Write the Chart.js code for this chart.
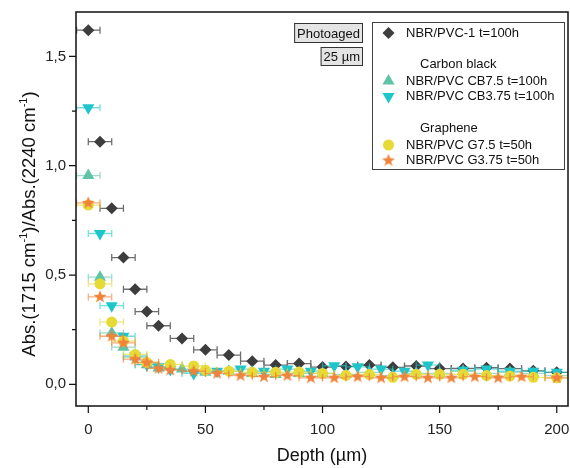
<!DOCTYPE html>
<html>
<head>
<meta charset="utf-8">
<script src="https://cdn.jsdelivr.net/npm/chart.js@4.4.1/dist/chart.umd.min.js"></script>
<style>
  html, body { margin: 0; padding: 0; background: #fff; }
</style>
</head>
<body>
<canvas id="chart" width="570" height="468"></canvas>
<script>
// depth (µm) and ratio values
const depthPvc1 = [0, 5, 10, 15, 20, 25, 30, 40, 50, 60, 70, 80, 90, 100, 110, 120, 130, 140, 150, 160, 170, 180, 190, 200];
const ratioPvc1 = [1.62, 1.11, 0.805, 0.58, 0.435, 0.333, 0.268, 0.21, 0.158, 0.134, 0.106, 0.088, 0.095, 0.079, 0.082, 0.088, 0.078, 0.084, 0.072, 0.073, 0.076, 0.072, 0.062, 0.055];

const depthCB75 = [0, 5, 10, 15, 20, 25, 30, 40, 50, 60, 70, 80, 90, 100, 110, 120, 130, 140, 150, 160, 170, 180, 190, 200];
const ratioCB75 = [0.955, 0.49, 0.235, 0.17, 0.125, 0.09, 0.075, 0.07, 0.055, 0.06, 0.05, 0.045, 0.05, 0.05, 0.045, 0.055, 0.04, 0.05, 0.05, 0.06, 0.05, 0.055, 0.05, 0.04];

const depthCB375 = [0, 5, 10, 15, 20, 25, 30, 35, 45, 55, 65, 75, 85, 95, 105, 115, 125, 135, 145, 160, 170, 180, 190, 200];
const ratioCB375 = [1.265, 0.69, 0.36, 0.22, 0.13, 0.09, 0.08, 0.068, 0.05, 0.06, 0.07, 0.06, 0.07, 0.06, 0.085, 0.08, 0.07, 0.06, 0.088, 0.065, 0.07, 0.06, 0.06, 0.055];

const depthG75 = [0, 5, 10, 15, 20, 25, 35, 45, 50, 60, 70, 80, 90, 100, 110, 120, 130, 140, 150, 160, 170, 180, 190, 200];
const ratioG75 = [0.82, 0.46, 0.285, 0.198, 0.137, 0.10, 0.091, 0.084, 0.065, 0.06, 0.055, 0.055, 0.056, 0.05, 0.041, 0.045, 0.032, 0.046, 0.046, 0.046, 0.04, 0.038, 0.032, 0.03];

const depthG375 = [0, 5, 10, 15, 20, 25, 30, 35, 45, 55, 65, 75, 85, 95, 105, 115, 125, 135, 145, 155, 165, 175, 185, 200];
const ratioG375 = [0.83, 0.40, 0.22, 0.19, 0.115, 0.10, 0.073, 0.065, 0.06, 0.05, 0.04, 0.035, 0.04, 0.03, 0.03, 0.035, 0.03, 0.035, 0.03, 0.03, 0.035, 0.03, 0.035, 0.03];

const depthErr = 5;

const xMajor = [0, 50, 100, 150, 200];
const xMinor = [25, 75, 125, 175];
const yMajor = [0, 0.5, 1.0, 1.5];
const yMinor = [0.25, 0.75, 1.25];

const FONT = "'Liberation Sans', Arial, sans-serif";

// filled five point star used as the G3.75 marker
function makeStar(color, r) {
    const c = document.createElement('canvas');
    const s = Math.ceil(r * 2 + 2);
    c.width = s; c.height = s;
    const g = c.getContext('2d');
    g.fillStyle = color;
    g.beginPath();
    for (let i = 0; i < 10; i++) {
        const rad = i % 2 === 0 ? r : r * 0.42;
        const a = -Math.PI / 2 + i * Math.PI / 5;
        g.lineTo(s / 2 + rad * Math.cos(a), s / 2 + rad * Math.sin(a));
    }
    g.closePath();
    g.fill();
    return c;
}
const starImg = makeStar('#f0823a', 6.8);

const pts = (xs, ys) => xs.map((x, i) => ({ x: x, y: ys[i] }));

const series = [
    { label: 'NBR/PVC-1 t=100h', data: pts(depthPvc1, ratioPvc1), color: '#3d3d3d', bar: '#6e6e6e', style: 'rectRot', radius: 6, rotation: 0, order: 5 },
    { label: 'NBR/PVC CB7.5 t=100h', data: pts(depthCB75, ratioCB75), color: '#5fc4a6', bar: 'rgba(95,196,166,0.6)', style: 'triangle', radius: 7, rotation: 0, order: 4 },
    { label: 'NBR/PVC CB3.75 t=100h', data: pts(depthCB375, ratioCB375), color: '#1ec6ca', bar: 'rgba(30,198,202,0.6)', style: 'triangle', radius: 7, rotation: 180, order: 3 },
    { label: 'NBR/PVC G7.5 t=50h', data: pts(depthG75, ratioG75), color: '#e6da37', bar: 'rgba(230,218,55,0.65)', style: 'circle', radius: 5.5, rotation: 0, order: 2 },
    { label: 'NBR/PVC G3.75 t=50h', data: pts(depthG375, ratioG375), color: '#f0823a', bar: 'rgba(240,130,58,0.65)', style: starImg, radius: 6, rotation: 0, order: 1 }
];

const errorBars = {
    id: 'errorBars',
    beforeDatasetDraw(chart, args) {
        const ds = chart.data.datasets[args.index];
        const { ctx, chartArea: a, scales: { x, y } } = chart;
        ctx.save();
        ctx.beginPath();
        ctx.rect(a.left, a.top, a.right - a.left, a.bottom - a.top);
        ctx.clip();
        ctx.strokeStyle = ds.barColor;
        ctx.lineWidth = 1.3;
        ds.data.forEach(p => {
            const x0 = x.getPixelForValue(p.x - depthErr);
            const x1 = x.getPixelForValue(p.x + depthErr);
            const py = y.getPixelForValue(p.y);
            ctx.beginPath();
            ctx.moveTo(x0, py); ctx.lineTo(x1, py);
            ctx.moveTo(x0, py - 3.5); ctx.lineTo(x0, py + 3.5);
            ctx.moveTo(x1, py - 3.5); ctx.lineTo(x1, py + 3.5);
            ctx.stroke();
        });
        ctx.restore();
    }
};

function tagBox(ctx, text, right, top, h) {
    ctx.font = '13px ' + FONT;
    const w = ctx.measureText(text).width + 6;
    ctx.fillStyle = '#e4e4e4';
    ctx.fillRect(right - w, top, w, h);
    ctx.strokeStyle = '#333';
    ctx.lineWidth = 1;
    ctx.strokeRect(right - w + 0.5, top + 0.5, w - 1, h - 1);
    ctx.fillStyle = '#111';
    ctx.textAlign = 'left';
    ctx.textBaseline = 'middle';
    ctx.fillText(text, right - w + 3, top + h / 2 + 1);
}

// y title with real superscripts
function yTitle(ctx, cx, cy) {
    const parts = [
        ['Abs.(1715 cm', false], ['-1', true], [')/Abs.(2240 cm', false], ['-1', true], [')', false]
    ];
    const big = '18.5px ' + FONT, small = '11px ' + FONT;
    let total = 0;
    parts.forEach(p => { ctx.font = p[1] ? small : big; total += ctx.measureText(p[0]).width; });
    ctx.save();
    ctx.translate(cx, cy);
    ctx.rotate(-Math.PI / 2);
    ctx.fillStyle = '#111';
    ctx.textAlign = 'left';
    ctx.textBaseline = 'alphabetic';
    let x = -total / 2;
    parts.forEach(p => {
        ctx.font = p[1] ? small : big;
        ctx.fillText(p[0], x, p[1] ? -1 : 6.5);
        x += ctx.measureText(p[0]).width;
    });
    ctx.restore();
}

const decorations = {
    id: 'decorations',
    afterDraw(chart) {
        const { ctx, chartArea: a, scales: { x, y } } = chart;
        ctx.save();
        // frame
        ctx.strokeStyle = '#111';
        ctx.lineWidth = 1.5;
        ctx.strokeRect(a.left, a.top, a.right - a.left, a.bottom - a.top);
        // outward ticks
        ctx.lineWidth = 1.2;
        ctx.beginPath();
        xMajor.forEach(v => { const px = x.getPixelForValue(v); ctx.moveTo(px, a.bottom); ctx.lineTo(px, a.bottom + 7); });
        xMinor.forEach(v => { const px = x.getPixelForValue(v); ctx.moveTo(px, a.bottom); ctx.lineTo(px, a.bottom + 4); });
        yMajor.forEach(v => { const py = y.getPixelForValue(v); ctx.moveTo(a.left, py); ctx.lineTo(a.left - 7, py); });
        yMinor.forEach(v => { const py = y.getPixelForValue(v); ctx.moveTo(a.left, py); ctx.lineTo(a.left - 4, py); });
        ctx.stroke();

        yTitle(ctx, 28, 224);

        // tag boxes
        tagBox(ctx, 'Photoaged', 363, 23, 20);
        tagBox(ctx, '25 µm', 363, 47, 19);

        // legend box
        ctx.fillStyle = '#fff';
        ctx.fillRect(372, 22, 193, 148);
        ctx.strokeStyle = '#444';
        ctx.lineWidth = 1;
        ctx.strokeRect(372.5, 22.5, 192, 147);

        const rows = [
            { y: 33, s: 0 },
            { y: 64, head: 'Carbon black' },
            { y: 81, s: 1 },
            { y: 96.5, s: 2 },
            { y: 128.5, head: 'Graphene' },
            { y: 145, s: 3 },
            { y: 160.5, s: 4 }
        ];
        ctx.font = '13px ' + FONT;
        ctx.textBaseline = 'middle';
        ctx.textAlign = 'left';
        rows.forEach(r => {
            ctx.fillStyle = '#111';
            if (r.head) {
                ctx.fillText(r.head, 420, r.y);
                return;
            }
            const s = series[r.s];
            ctx.fillText(s.label, 406, r.y);
            ctx.fillStyle = s.color;
            Chart.helpers.drawPoint(ctx, { pointStyle: s.style, radius: s.radius, rotation: s.rotation, borderWidth: 0 }, 388.5, r.y);
        });
        ctx.restore();
    }
};

new Chart(document.getElementById('chart'), {
    type: 'scatter',
    data: {
        datasets: series.map(s => ({
            label: s.label,
            data: s.data,
            order: s.order,
            barColor: s.bar,
            showLine: false,
            pointStyle: s.style,
            pointRadius: s.radius,
            pointRotation: s.rotation,
            pointBackgroundColor: s.color,
            pointBorderWidth: 0,
            pointBorderColor: s.color
        }))
    },
    options: {
        responsive: false,
        animation: false,
        layout: { autoPadding: false, padding: { top: 12, right: 2, left: 0, bottom: 0 } },
        plugins: {
            legend: { display: false },
            tooltip: { enabled: false }
        },
        scales: {
            x: {
                type: 'linear',
                min: -5.25,
                max: 204.8,
                afterBuildTicks: s => { s.ticks = xMajor.map(v => ({ value: v })); },
                afterFit: s => { s.height = 62; s.paddingLeft = 0; s.paddingRight = 0; },
                grid: { display: false, drawTicks: false },
                border: { display: false },
                ticks: {
                    padding: 15,
                    color: '#222',
                    font: { family: FONT, size: 15 },
                    callback: v => String(v)
                },
                title: {
                    display: true,
                    text: 'Depth (µm)',
                    color: '#111',
                    font: { family: FONT, size: 18 },
                    padding: { top: 0, bottom: 1 }
                }
            },
            y: {
                type: 'linear',
                min: -0.099,
                max: 1.703,
                afterBuildTicks: s => { s.ticks = yMajor.map(v => ({ value: v })); },
                afterFit: s => { s.width = 76; s.paddingTop = 0; s.paddingBottom = 0; },
                grid: { display: false, drawTicks: false },
                border: { display: false },
                ticks: {
                    padding: 10,
                    color: '#222',
                    font: { family: FONT, size: 15 },
                    callback: v => v.toFixed(1).replace('.', ',')
                }
            }
        }
    },
    plugins: [errorBars, decorations]
});
</script>
</body>
</html>
